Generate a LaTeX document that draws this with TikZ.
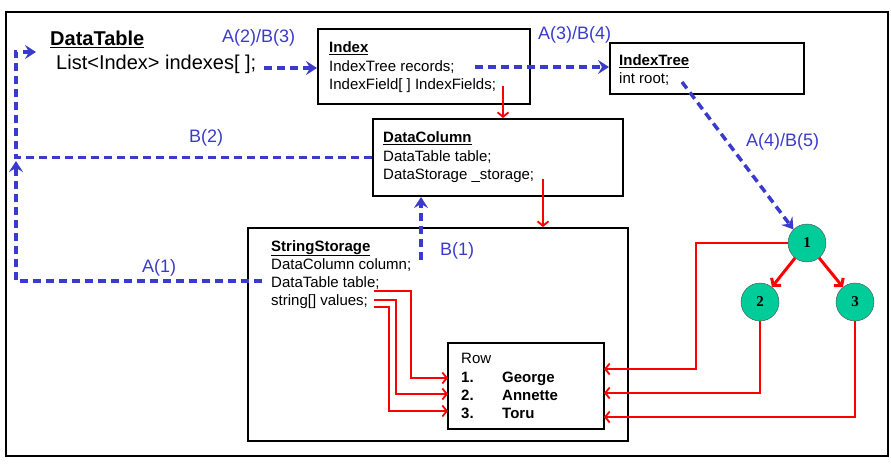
\documentclass[tikz,border=0pt]{standalone}
\usepackage{fontspec}
\setmainfont{Liberation Sans}
\newfontfamily\treefont{Liberation Serif}
\usetikzlibrary{arrows.meta}
\definecolor{linkblue}{RGB}{58,58,204}
\definecolor{treegreen}{RGB}{0,204,153}

\begin{document}
\begin{tikzpicture}[x=1pt,y=-1pt,
  box/.style={draw,line width=2pt,inner sep=0pt},
  txt/.style={anchor=base west,inner sep=0pt,font=\fontsize{15}{18}\selectfont},
  lbl/.style={anchor=base west,inner sep=0pt,text=linkblue,font=\fontsize{18}{21}\selectfont},
  link/.style={linkblue,line width=3.5pt,dash pattern=on 8pt off 5pt,-{Stealth[length=11pt,width=14pt,inset=4pt]}},
  ref/.style={red,line width=1.8pt,-{Straight Barb[length=4.5pt,width=11pt]}},
  treenode/.style={circle,draw=black!70,fill=treegreen,minimum size=38pt,inner sep=0pt,
    font=\treefont\bfseries\fontsize{15}{15}\selectfont}]
\useasboundingbox (0,0) rectangle (891,465);
% outer frame and the class boxes
\node[box,line width=2.5pt,minimum width=882pt,minimum height=444pt] (frame) at (447,234) {};
\node[box,minimum width=212pt,minimum height=75pt] (index) at (424,66.5) {};
\node[box,minimum width=194pt,minimum height=51pt] (indextree) at (707,68.5) {};
\node[box,minimum width=250pt,minimum height=77pt] (datacolumn) at (498,157.5) {};
\node[box,minimum width=380pt,minimum height=213pt] (stringstorage) at (438,334.5) {};
\node[box,minimum width=156pt,minimum height=86pt] (row) at (526,386) {};

% DataTable
\node[txt,font=\fontsize{20}{24}\selectfont] (dtName) at (50,46) {\underline{\textbf{DataTable}}};
\node[txt,font=\fontsize{20}{24}\selectfont] (dtList) at (56,70) {List<Index> indexes[ ];};

% Index
\node[txt] (idxName) at (329,53) {\underline{\textbf{Index}}};
\node[txt] (idxRec) at (329,72) {IndexTree records;};
\node[txt] (idxFld) at (329,90) {IndexField[ ] IndexFields;};

% IndexTree
\node[txt] (itName) at (619,66) {\underline{\textbf{IndexTree}}};
\node[txt] (itRoot) at (619,84) {int root;};

% DataColumn
\node[txt] (dcName) at (383,143) {\underline{\textbf{DataColumn}}};
\node[txt] (dcTable) at (383,162) {DataTable table;};
\node[txt] (dcStor) at (383,180) {DataStorage \_storage;};

% StringStorage
\node[txt] (ssName) at (271,251) {\underline{\textbf{StringStorage}}};
\node[txt] (ssCol) at (271,269) {DataColumn column;};
\node[txt] (ssTable) at (271,287) {DataTable table;};
\node[txt] (ssVal) at (271,305) {string[] values;};

% Row
\node[txt] (rowName) at (461,363) {Row};
\node[txt] (rowN1) at (461,382) {\textbf{1.}};
\node[txt] (rowN2) at (461,400) {\textbf{2.}};
\node[txt] (rowN3) at (461,418) {\textbf{3.}};
\node[txt] (rowV1) at (502,382) {\textbf{George}};
\node[txt] (rowV2) at (502,400) {\textbf{Annette}};
\node[txt] (rowV3) at (502,418) {\textbf{Toru}};

% tree
\node[treenode] (n1) at (807,243) {1};
\node[treenode] (n2) at (760,302) {2};
\node[treenode] (n3) at (855,302) {3};

% blue labels
\node[lbl] (lA2B3) at (222,43) {A(2)/B(3)};
\node[lbl] (lA3B4) at (538,40) {A(3)/B(4)};
\node[lbl] (lA4B5) at (746,147) {A(4)/B(5)};
\node[lbl] (lB2) at (189,143) {B(2)};
\node[lbl] (lB1) at (440,255) {B(1)};
\node[lbl] (lA1) at (142,272) {A(1)};

% ends of the connectors
\coordinate (listEnd) at (264,68);
\coordinate (recEnd) at (475,67);
\coordinate (rootEnd) at (682,82);
\coordinate (colEnd) at (421,260);
\coordinate (tblEnd) at (262,281);
\coordinate (fldEnd) at (503,86);
\coordinate (storEnd) at (543,179);
\coordinate (ssTblEnd) at (374,291);
\coordinate (valEndA) at (374,300);
\coordinate (valEndB) at (374,307);
\coordinate (leftTop) at (16,52);
\coordinate (leftMid) at (16,161);
\coordinate (dtIn) at (36,52);
\coordinate (rowW1) at (448,378);
\coordinate (rowW2) at (448,394);
\coordinate (rowW3) at (448,411);
\coordinate (rowE1) at (604,369);
\coordinate (rowE2) at (604,393);
\coordinate (rowE3) at (604,417);

% blue links
\draw[link] (listEnd) -- (listEnd -| index.west);
\draw[link] (recEnd) -- (recEnd -| indextree.west);
\draw[link] (rootEnd) -- (n1.north west);
\draw[link] (colEnd) -- (colEnd |- datacolumn.south);
\draw[link] (tblEnd) -| (leftMid);
\draw[link] (datacolumn.west) -| (leftTop) -- (dtIn);

% red references
\draw[ref] (fldEnd) -- (fldEnd |- datacolumn.north);
\draw[ref] (storEnd) -- (storEnd |- stringstorage.north);
\draw[ref] (ssTblEnd) -- ++(37,0) |- (rowW1);
\draw[ref] (valEndA) -- ++(22,0) |- (rowW2);
\draw[ref] (valEndB) -- ++(15,0) |- (rowW3);
\draw[ref] (n1.west) -- ++(-92,0) |- (rowE1);
\draw[ref] (n2.south) |- (rowE2);
\draw[ref] (n3.south) |- (rowE3);
\draw[ref,line width=3pt,-{Straight Barb[length=5pt,width=12pt]}] (n1) -- (n2);
\draw[ref,line width=3pt,-{Straight Barb[length=5pt,width=12pt]}] (n1) -- (n3);
\end{tikzpicture}
\end{document}
